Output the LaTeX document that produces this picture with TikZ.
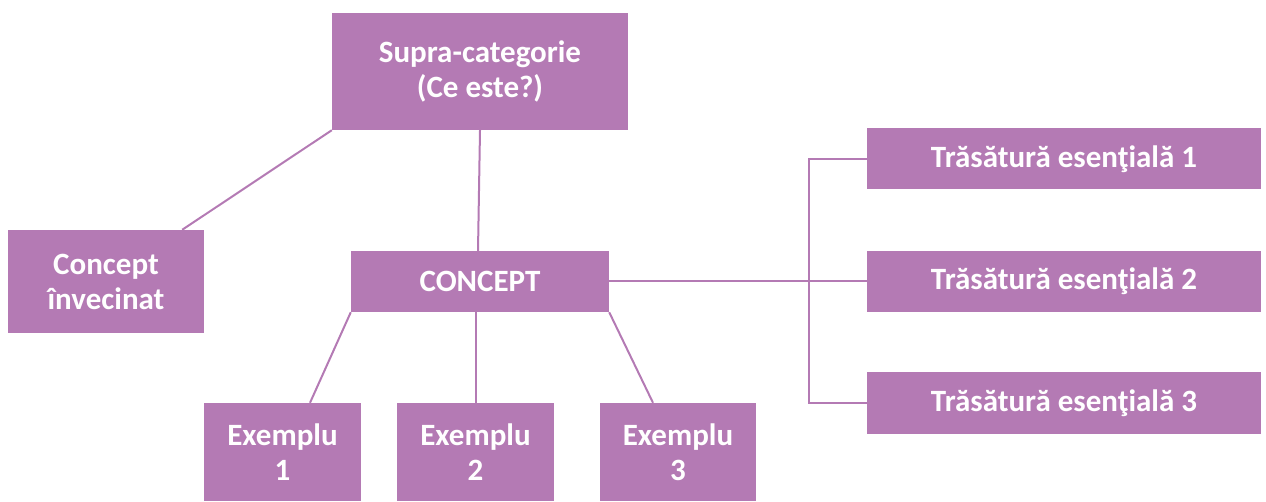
\documentclass[tikz,border=0pt]{standalone}
\usepackage{fontspec}
\setmainfont{Carlito}
\usetikzlibrary{calc}
\definecolor{boxc}{RGB}{180,122,180}
\begin{document}
\begin{tikzpicture}[x=1pt,y=-1pt,
  box/.style={fill=boxc,draw=none,text=white,font=\fontsize{31}{35}\selectfont\bfseries,align=center,inner sep=0pt},
  link/.style={draw=boxc,line width=2pt}]
\useasboundingbox (0,0) rectangle (1266,502);
\node[box,minimum width=296pt,minimum height=117pt] (sup) at (480,71.5) {Supra-categorie\\(Ce este?)};
\node[box,minimum width=196pt,minimum height=103pt] (inv) at (106,281.5) {Concept\\învecinat};
\node[box,minimum width=258pt,minimum height=61pt] (con) at (480,281.5) {CONCEPT};
\node[box,minimum width=157pt,minimum height=98pt] (ex1) at (282.5,452) {Exemplu\\1};
\node[box,minimum width=157pt,minimum height=98pt] (ex2) at (475.5,452) {Exemplu\\2};
\node[box,minimum width=156pt,minimum height=98pt] (ex3) at (678,452) {Exemplu\\3};
\node[box,minimum width=394pt,minimum height=61pt] (t1) at (1064,159) {Trăsătură esenţială 1};
\node[box,minimum width=394pt,minimum height=61pt] (t2) at (1064,281.5) {Trăsătură esenţială 2};
\node[box,minimum width=394pt,minimum height=61pt] (t3) at (1064,403) {Trăsătură esenţială 3};
\coordinate (bus) at (809,0);
\draw[link] (sup.south west) -- ($(inv.north east)+(-22,0)$);
\draw[link] (sup.south) -- ($(con.north)+(-2,0)$);
\draw[link] (con.south west) -- ($(ex1.north)+(27.5,0)$);
\draw[link] (ex2.north |- con.south) -- (ex2.north);
\draw[link] (con.south east) -- ($(ex3.north)+(-25,0)$);
\draw[link] (con.east) -- (t2.west);
\draw[link] (t1.west) -- (t1.west -| bus) -- (t3.west -| bus) -- (t3.west);
\end{tikzpicture}
\end{document}
